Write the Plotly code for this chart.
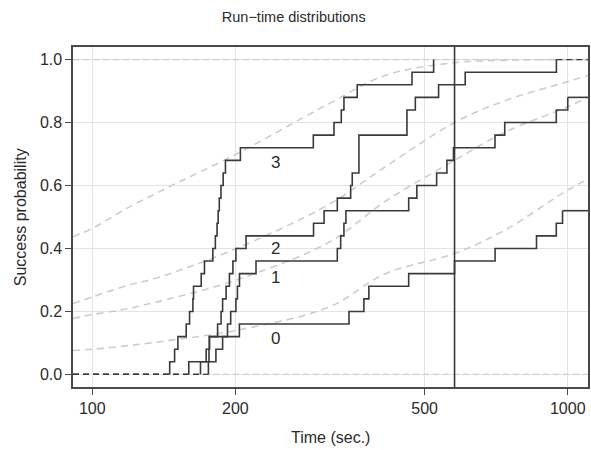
import numpy as np
import plotly.graph_objects as go

# ---------------- data ----------------
n_runs = 25
# solve times (sec.) of each configuration, sorted
times_0 = [159.6, 176.0, 176.5, 203.9, 346.7, 372.6, 381.7, 462.9, 578.0, 703.3, 859.6, 946.0, 975.0]
times_1 = [175.5, 182.0, 188.0, 192.5, 195.5, 200.5, 202.0, 204.0, 221.0, 327.6, 333.0, 338.3,
           341.6, 462.9, 481.6, 530.0, 557.0, 575.0, 703.0, 737.0, 946.0, 1000.0]
times_2 = [168.9, 173.6, 176.2, 183.5, 186.6, 188.0, 191.2, 194.3, 197.6, 200.5, 210.6, 292.0,
           307.3, 327.6, 349.5, 352.2, 363.8, 363.8, 363.8, 459.0, 459.0, 478.0, 535.0, 608.6, 946.5]
times_3 = [145.5, 149.0, 151.4, 157.6, 160.2, 162.8, 163.3, 169.5, 172.2, 179.3, 181.5, 183.0,
           184.0, 185.0, 186.5, 188.5, 190.6, 204.9, 291.7, 322.4, 334.0, 338.3, 360.8, 470.4, 522.3]
series_names = ["0", "1", "2", "3"]
series_times = [times_0, times_1, times_2, times_3]
tail_dashed = [False, False, True, False]

# fitted run-time distributions
fit_x = [91.1, 100, 120, 132.2, 145.5, 201, 314.7, 413.7, 578, 739, 1000, 1103]
fit_3 = [0.437, 0.464, 0.533, 0.565, 0.597, 0.70, 0.86, 0.95, 0.99, 0.998, 1.0, 1.0]
fit_2 = [0.225, 0.246, 0.285, 0.30, 0.32, 0.40, 0.54, 0.66, 0.80, 0.87, 0.93, 0.95]
fit_1 = [0.178, 0.19, 0.21, 0.225, 0.24, 0.30, 0.42, 0.55, 0.68, 0.77, 0.85, 0.88]
fit_0 = [0.076, 0.08, 0.092, 0.10, 0.108, 0.14, 0.214, 0.32, 0.384, 0.459, 0.586, 0.62]
fits = [fit_0, fit_1, fit_2, fit_3]

cutoff_time = 578.0
label_x = 243.0
label_y = [0.11, 0.305, 0.395, 0.67]

x_ticks = [100, 200, 500, 1000]
y_ticks = [0.0, 0.2, 0.4, 0.6, 0.8, 1.0]
y_ticklabels = ["0.0", "0.2", "0.4", "0.6", "0.8", "1.0"]

x_range = [91.1, 1103.0]
y_range = [-0.04, 1.04]

# ---------------- style ----------------
DARK = "#3a3a3a"
TEXT = "#2b2b2b"
FIT = "#cdcdcd"
GRID = "#e4e4e4"
FONT = "Liberation Sans, Arial, sans-serif"

fig = go.Figure()

# reference lines at 0 and 1
for lvl in (0.0, 1.0):
    fig.add_trace(go.Scatter(x=x_range, y=[lvl, lvl], mode="lines",
                             line=dict(color=FIT, width=1.3, dash="6px,4px"),
                             hoverinfo="skip", showlegend=False))

# fitted curves
for f in fits:
    fig.add_trace(go.Scatter(x=fit_x, y=f, mode="lines", line_shape="spline",
                             line=dict(color=FIT, width=1.6, dash="7px,5px"),
                             hoverinfo="skip", showlegend=False))

# empirical step curves
for name, t, tdash in zip(series_names, series_times, tail_dashed):
    p = [(i + 1) / n_runs for i in range(len(t))]
    xs = [t[0]] + list(t)
    ys = [0.0] + p
    fig.add_trace(go.Scatter(x=xs, y=ys, mode="lines", line_shape="hv",
                             line=dict(color=DARK, width=1.6),
                             hoverinfo="skip", showlegend=False, name=name))
    # leading segment at 0
    fig.add_trace(go.Scatter(x=[x_range[0], t[0]], y=[0, 0], mode="lines",
                             line=dict(color=DARK, width=1.3, dash="6px,4px"),
                             hoverinfo="skip", showlegend=False))
    if tdash:
        fig.add_trace(go.Scatter(x=[t[-1], x_range[1]], y=[p[-1], p[-1]], mode="lines",
                                 line=dict(color=DARK, width=1.3, dash="6px,4px"),
                                 hoverinfo="skip", showlegend=False))
    elif p[-1] < 1.0:
        fig.add_trace(go.Scatter(x=[t[-1], x_range[1]], y=[p[-1], p[-1]], mode="lines",
                                 line=dict(color=DARK, width=1.6),
                                 hoverinfo="skip", showlegend=False))

# cutoff vertical line
fig.add_trace(go.Scatter(x=[cutoff_time, cutoff_time], y=y_range, mode="lines",
                         line=dict(color=DARK, width=1.6),
                         hoverinfo="skip", showlegend=False))

# curve labels
fig.add_trace(go.Scatter(x=[label_x] * 4, y=label_y, mode="text", text=series_names,
                         textfont=dict(family=FONT, size=17, color=TEXT),
                         hoverinfo="skip", showlegend=False))

fig.update_layout(
    width=591, height=450,
    margin=dict(l=73, r=1, t=47, b=63),
    paper_bgcolor="white", plot_bgcolor="white",
    font=dict(family=FONT, size=16, color=TEXT),
    title=dict(text="Run\u2212time distributions", x=0.497, xanchor="center",
               y=1 - 17 / 450, yanchor="middle", yref="container",
               font=dict(family=FONT, size=14.5, color=TEXT)),
    showlegend=False,
)
fig.update_xaxes(type="log", range=[np.log10(x_range[0]), np.log10(x_range[1])],
                 tickvals=x_ticks, ticktext=[str(v) for v in x_ticks],
                 showgrid=True, gridcolor=GRID, gridwidth=1,
                 showline=True, linecolor="#4a4a4a", linewidth=1.6, mirror=True,
                 ticks="outside", ticklen=6, tickcolor="#4a4a4a",
                 tickfont=dict(size=16, color=TEXT), zeroline=False)
fig.update_yaxes(range=y_range, tickvals=y_ticks, ticktext=y_ticklabels,
                 showgrid=True, gridcolor=GRID, gridwidth=1,
                 showline=True, linecolor="#4a4a4a", linewidth=1.6, mirror=True,
                 ticks="outside", ticklen=6, tickcolor="#4a4a4a",
                 tickfont=dict(size=16, color=TEXT), zeroline=False)

fig.add_annotation(text="Time (sec.)", xref="paper", yref="paper", x=0.5, y=-50 / 340,
                   xanchor="center", yanchor="middle", showarrow=False,
                   font=dict(family=FONT, size=16, color=TEXT))
fig.add_annotation(text="Success probability", xref="paper", yref="paper",
                   x=(20 - 73) / 517, y=0.5, xanchor="center", yanchor="middle",
                   textangle=-90, showarrow=False,
                   font=dict(family=FONT, size=16, color=TEXT))

fig.write_html("out.html", config={"displayModeBar": False, "staticPlot": True},
               post_script="document.body.style.margin='0';document.body.style.overflow='hidden';")
